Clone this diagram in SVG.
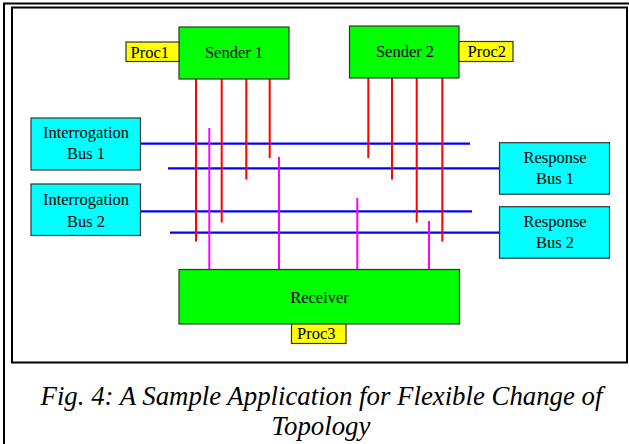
<svg xmlns="http://www.w3.org/2000/svg" width="629" height="444" viewBox="0 0 629 444">
<style>
.box{stroke:#333;stroke-width:1.2}
.green{fill:#00ff00}
.cyan{fill:#00ffff}
.yellow{fill:#ffff00}
.blue{stroke:#0000ff;stroke-width:2.2}
.red{stroke:#ff0000;stroke-width:2}
.mag{stroke:#ff00ff;stroke-width:2}
.frame{fill:none;stroke:#000;stroke-width:2}
</style>
<rect class="frame" x="4" y="3.5" width="640" height="460"/>
<rect class="frame" x="12" y="7.5" width="615" height="355" stroke-width="2.4"/>
<g id="connectors">
<line class="blue" x1="140" y1="143.7" x2="470" y2="143.7"/>
<line class="blue" x1="168" y1="168.3" x2="499" y2="168.3"/>
<line class="blue" x1="140" y1="211.3" x2="472" y2="211.3"/>
<line class="blue" x1="170" y1="232.7" x2="499" y2="232.7"/>
<line class="red" x1="196" y1="79" x2="196" y2="241.5"/>
<line class="red" x1="221.7" y1="79" x2="221.7" y2="222.5"/>
<line class="red" x1="246.3" y1="79" x2="246.3" y2="179.5"/>
<line class="red" x1="269.7" y1="79" x2="269.7" y2="158"/>
<line class="red" x1="368.3" y1="78" x2="368.3" y2="158"/>
<line class="red" x1="392" y1="78" x2="392" y2="179.5"/>
<line class="red" x1="416.7" y1="78" x2="416.7" y2="222.5"/>
<line class="red" x1="442.3" y1="78" x2="442.3" y2="241.5"/>
<line class="mag" x1="209.3" y1="128" x2="209.3" y2="269.5"/>
<line class="mag" x1="279" y1="157" x2="279" y2="269.5"/>
<line class="mag" x1="357.3" y1="198" x2="357.3" y2="269.5"/>
<line class="mag" x1="429" y1="221" x2="429" y2="269.5"/>
</g>
<g id="sender1">
<rect class="box green" x="179" y="27" width="110" height="52"/>
<text font-family="Liberation Serif" font-size="16.5" text-anchor="middle" x="234" y="57.5">Sender 1</text>
</g>
<g id="proc1">
<rect class="box yellow" x="126" y="42" width="53" height="19.5"/>
<text font-family="Liberation Serif" font-size="16.5" x="130.5" y="57.5">Proc1</text>
</g>
<g id="sender2">
<rect class="box green" x="349.5" y="26" width="109.5" height="52"/>
<text font-family="Liberation Serif" font-size="16.5" text-anchor="middle" x="405" y="57">Sender 2</text>
</g>
<g id="proc2">
<rect class="box yellow" x="459" y="41.5" width="54" height="20"/>
<text font-family="Liberation Serif" font-size="16.5" x="467.5" y="57.3">Proc2</text>
</g>
<g id="ibus1">
<rect class="box cyan" x="31" y="118" width="109.5" height="52"/>
<text font-family="Liberation Serif" font-size="16.5" text-anchor="middle" x="86" y="137.5">Interrogation</text>
<text font-family="Liberation Serif" font-size="16.5" text-anchor="middle" x="86" y="159.3">Bus 1</text>
</g>
<g id="ibus2">
<rect class="box cyan" x="31" y="184" width="109.5" height="51.5"/>
<text font-family="Liberation Serif" font-size="16.5" text-anchor="middle" x="86" y="205">Interrogation</text>
<text font-family="Liberation Serif" font-size="16.5" text-anchor="middle" x="86" y="226.7">Bus 2</text>
</g>
<g id="rbus1">
<rect class="box cyan" x="499.5" y="142.7" width="110" height="51.5"/>
<text font-family="Liberation Serif" font-size="16.5" text-anchor="middle" x="555" y="163.3">Response</text>
<text font-family="Liberation Serif" font-size="16.5" text-anchor="middle" x="555" y="183.7">Bus 1</text>
</g>
<g id="rbus2">
<rect class="box cyan" x="499.5" y="206.7" width="110" height="51.5"/>
<text font-family="Liberation Serif" font-size="16.5" text-anchor="middle" x="555" y="227.3">Response</text>
<text font-family="Liberation Serif" font-size="16.5" text-anchor="middle" x="555" y="247.7">Bus 2</text>
</g>
<g id="receiver">
<rect class="box green" x="179" y="269.5" width="280.5" height="54.5"/>
<text font-family="Liberation Serif" font-size="16.5" text-anchor="middle" x="319.5" y="302.7">Receiver</text>
</g>
<g id="proc3">
<rect class="box yellow" x="291.5" y="324" width="54.5" height="19.5"/>
<text font-family="Liberation Serif" font-size="16.5" x="297" y="338.5">Proc3</text>
</g>
<g id="caption">
<text font-family="Liberation Serif" font-size="26.8" font-style="italic" text-anchor="middle" x="321.5" y="405">Fig. 4: A Sample Application for Flexible Change of</text>
<text font-family="Liberation Serif" font-size="26.8" font-style="italic" text-anchor="middle" x="321" y="435">Topology</text>
</g>
</svg>
